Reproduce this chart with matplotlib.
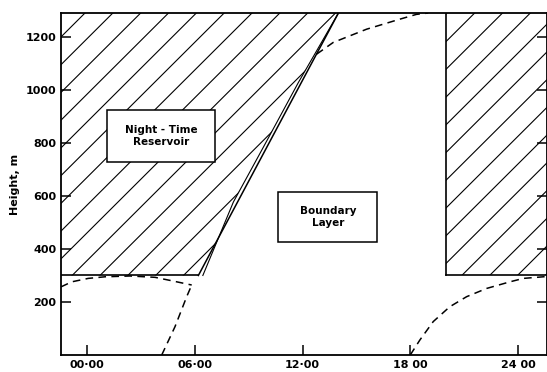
import numpy as np
import matplotlib
matplotlib.use("Agg")
import matplotlib.pyplot as plt
from matplotlib.patches import Polygon, Rectangle

# axis ranges (hours, metres)
x_min, x_max = -1.45, 25.6
y_min, y_max = 0, 1290

hour_ticks = [0, 6, 12, 18, 24]
hour_labels = ["00·00", "06·00", "12·00", "18 00", "24 00"]
height_ticks = [200, 400, 600, 800, 1000, 1200]

reservoir_base = 300

# night-time stable layer top (dashed, left)
night_t = [-1.45, -0.85, 0.07, 1.0, 2.4, 3.79, 4.72, 5.83]
night_h = [257, 276, 289, 295, 298, 293, 280, 264]

# early morning growth (dashed)
morning_t = [4.16, 4.9, 5.55, 5.83]
morning_h = [0, 107, 220, 264]

# mixed layer growth (solid)
growth_t = [6.2, 14.0]
growth_h = [300, 1290]

# hand drawn inner edge of the hatching along the growth line
inner_t = [6.45, 8.15, 9.82, 11.77, 14.0]
inner_h = [300, 577, 784, 1028, 1290]

# afternoon top (dashed)
afternoon_t = [12.79, 13.71, 15.57, 17.43, 18.35, 19.0]
afternoon_h = [1135, 1179, 1229, 1267, 1285, 1290]

# evening stable layer (dashed, right)
evening_t = [18.0, 18.54, 19.28, 20.2, 21.14, 22.25, 23.55, 24.3, 25.6]
evening_h = [0, 57, 126, 182, 220, 251, 276, 289, 296]

# second reservoir starts at 20:00
reservoir2_start = 20.0


def hatch_region(ax, poly, slope=67.5, step=1.55, offset=0.72):
    ax.add_patch(poly)
    for t0 in np.arange(offset - 30 * step, x_max + 30 * step, step):
        xs = np.array([x_min - 30, x_max + 30])
        ys = reservoir_base + slope * (xs - t0)
        ln, = ax.plot(xs, ys, color="black", lw=0.8)
        ln.set_clip_path(poly)


def main():
    fig = plt.figure(figsize=(5.47, 3.72), dpi=100)
    ax = fig.add_axes([0.1115, 0.0457, 0.888, 0.9193])
    ax.set_xlim(x_min, x_max)
    ax.set_ylim(y_min, y_max)

    # hatched reservoirs
    inner = list(zip(inner_t, inner_h))
    poly1 = Polygon([(x_min, reservoir_base)] + inner + [(x_min, y_max)],
                    closed=True, facecolor="none", edgecolor="none")
    poly2 = Polygon([(reservoir2_start, reservoir_base), (x_max, reservoir_base),
                     (x_max, y_max), (reservoir2_start, y_max)],
                    closed=True, facecolor="none", edgecolor="none")
    hatch_region(ax, poly1)
    hatch_region(ax, poly2)

    ax.plot([x_min, growth_t[0]], [reservoir_base, reservoir_base], color="black", lw=1.2)
    ax.plot(growth_t, growth_h, color="black", lw=1.1)
    ax.plot(inner_t, inner_h, color="black", lw=0.8)
    ax.plot([reservoir2_start, x_max], [reservoir_base, reservoir_base], color="black", lw=1.2)
    ax.plot([reservoir2_start, reservoir2_start], [reservoir_base, y_max], color="black", lw=1.2)

    dash = dict(color="black", lw=1.1, dashes=(5, 3.5))
    ax.plot(night_t, night_h, **dash)
    ax.plot(morning_t, morning_h, **dash)
    ax.plot(afternoon_t, afternoon_h, **dash)
    ax.plot(evening_t, evening_h, **dash)

    # label boxes
    ax.add_patch(Rectangle((4.11 - 3.0, 825 - 97), 6.0, 195, facecolor="white",
                           edgecolor="black", lw=1.1, zorder=5))
    ax.text(4.11, 825, "Night - Time\nReservoir", ha="center", va="center",
            fontsize=7.5, fontweight="bold", zorder=6)
    ax.add_patch(Rectangle((13.41 - 2.75, 521 - 94), 5.5, 188, facecolor="white",
                           edgecolor="black", lw=1.1, zorder=5))
    ax.text(13.41, 521, "Boundary\nLayer", ha="center", va="center",
            fontsize=7.5, fontweight="bold", zorder=6)

    ax.set_xticks(hour_ticks)
    ax.set_xticklabels(hour_labels)
    ax.set_yticks(height_ticks)
    ax.tick_params(direction="in", length=7, width=1.1, labelsize=8, right=True)
    for lab in ax.get_xticklabels() + ax.get_yticklabels():
        lab.set_fontweight("bold")
    ax.set_ylabel("Height, m", fontsize=8, fontweight="bold", labelpad=4)

    for sp in ax.spines.values():
        sp.set_linewidth(1.3)

    fig.savefig("out.png", dpi=100)


if __name__ == "__main__":
    main()
